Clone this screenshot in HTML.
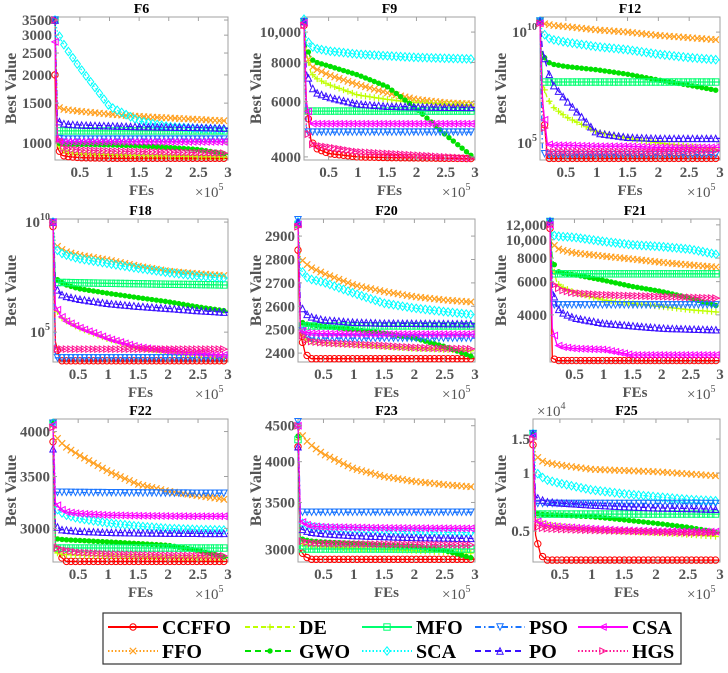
<!DOCTYPE html>
<html><head><meta charset="utf-8">
<style>
html,body{margin:0;padding:0;background:#fff;}
svg{display:block;font-family:"Liberation Serif",serif;}
</style></head>
<body>
<svg id="chart" width="728" height="673" viewBox="0 0 728 673" xmlns="http://www.w3.org/2000/svg"></svg>
<script>
// ---------- data ----------
const algorithms = ["CCFFO","FFO","DE","GWO","MFO","SCA","PSO","PO","CSA","HGS"];
const fesSamples = [0.08,0.12,0.2,0.3,0.5,1,1.5,2,2.5,3]; // x 10^5
const panelTitles = ["F6","F9","F12","F18","F20","F21","F22","F23","F25"];

const f6Values = [
 [2000,950,880,870,860,855,855,855,855,855],
 [3500,1450,1410,1400,1380,1340,1310,1290,1270,1250],
 [3500,1000,930,910,900,890,880,875,870,865],
 [3500,1000,990,988,985,980,970,955,935,890],
 [3500,1130,1130,1130,1130,1130,1130,1130,1130,1130],
 [3500,3100,2800,2550,2150,1450,1250,1180,1160,1150],
 [3500,1050,1040,1040,1040,1040,1040,1040,1040,1040],
 [3500,1260,1220,1210,1200,1190,1180,1175,1170,1160],
 [2800,1020,1010,1010,1010,1010,1010,1010,1010,1010],
 [3500,1100,950,940,930,920,915,910,905,900]];
const f9Values = [
 [10500,6000,4500,4250,4100,4000,3980,3970,3960,3950],
 [10800,8500,7800,7600,7300,6800,6400,6100,5950,5900],
 [10800,8500,7400,7100,6800,6300,6100,5950,5900,5850],
 [10800,9000,8200,8000,7800,7300,6700,5700,4700,3950],
 [10800,5600,5600,5600,5600,5600,5600,5600,5600,5600],
 [11000,9500,9000,8850,8700,8500,8400,8300,8250,8200],
 [10800,4800,4800,4800,4800,4800,4800,4800,4800,4800],
 [10800,7500,6700,6400,6200,5900,5800,5780,5760,5750],
 [10700,6000,5100,5100,5100,5100,5100,5100,5100,5100],
 [10500,5000,4400,4350,4300,4150,4100,4050,4000,3950]];
const f12Values = [
 [3.16e10,1e7,2e4,2e4,2e4,2e4,2e4,2e4,2e4,2e4],
 [3.16e10,2.5e10,2.24e10,2e10,1.78e10,1.26e10,1e10,7.1e9,5.6e9,4.4e9],
 [3.16e10,5e7,1e7,4e6,1.5e6,3.2e5,1.6e5,1e5,7.1e4,5e4],
 [3.16e10,1e9,4.5e8,3.5e8,2.8e8,2e8,1.26e8,6.9e7,4e7,2.2e7],
 [3.16e10,5.6e7,5.6e7,5.6e7,5.6e7,5.6e7,5.6e7,5.6e7,5.6e7,5.6e7],
 [3.16e10,1e10,5.4e9,4.5e9,3.5e9,2.2e9,1.6e9,1e9,7.1e8,5.5e8],
 [3.16e10,3.5e4,3e4,3e4,3e4,3e4,3e4,3e4,3e4,3e4],
 [3.16e10,1.6e9,2e8,4e7,8.7e6,2.8e5,1.8e5,1.6e5,1.6e5,1.6e5],
 [2.5e10,7.9e6,8.9e4,7.9e4,7.9e4,7.1e4,7.1e4,6.3e4,6.3e4,6.3e4],
 [2.5e10,3.2e6,4e4,4e4,4e4,4e4,4e4,4e4,4.2e4,4.5e4]];
const f18Values = [
 [6.3e9,3.6e4,5e3,5e3,5e3,5e3,5e3,5e3,5e3,5e3],
 [1e10,9.5e8,6.3e8,4.5e8,3.2e8,1.9e8,1e8,5.9e7,4.5e7,3.6e7],
 [1e10,1.3e6,5e5,3.2e5,1.6e5,4.8e4,2e4,1.26e4,9.5e3,7.6e3],
 [1e10,2.8e7,2e7,1.4e7,9.5e6,5.8e6,3.7e6,2.4e6,1.4e6,8.9e5],
 [1e10,1.8e7,1.8e7,1.8e7,1.74e7,1.66e7,1.58e7,1.5e7,1.45e7,1.38e7],
 [1e10,6.3e8,4e8,3.2e8,2.2e8,1.3e8,7.9e7,5.1e7,3.5e7,2.8e7],
 [1e10,6.8e3,6.8e3,6.8e3,6.8e3,6.8e3,6.8e3,6.8e3,6.8e3,6.8e3],
 [1e10,1.15e7,5.4e6,4.2e6,3.2e6,2e6,1.5e6,1.2e6,9.5e5,7.9e5],
 [1e10,1.6e6,5.9e5,3.2e5,1.7e5,5.1e4,2.1e4,1.4e4,1.1e4,8.9e3],
 [1e10,1.7e4,1.7e4,1.7e4,1.7e4,1.7e4,1.7e4,1.7e4,1.7e4,1.7e4]];
const f20Values = [
 [2840,2485,2396,2376,2376,2376,2376,2376,2376,2376],
 [2950,2805,2784,2765,2741,2691,2663,2641,2627,2617],
 [2950,2500,2460,2450,2445,2437,2428,2420,2415,2410],
 [2950,2535,2525,2520,2514,2500,2485,2464,2428,2381],
 [2950,2516,2516,2516,2516,2516,2516,2516,2516,2516],
 [2960,2762,2727,2715,2703,2656,2613,2592,2577,2563],
 [2970,2506,2480,2464,2464,2464,2464,2464,2464,2464],
 [2960,2606,2570,2555,2542,2532,2528,2527,2526,2525],
 [2950,2500,2488,2485,2483,2482,2481,2481,2481,2481],
 [2940,2485,2460,2450,2444,2438,2432,2424,2420,2418]];
const f21Values = [
 [11500,2360,2290,2290,2290,2290,2290,2290,2290,2290],
 [12500,9620,9000,8800,8520,8190,7900,7590,7350,7140],
 [12500,7500,5900,5600,5260,4790,4600,4420,4250,4130],
 [12500,7850,6820,6650,6530,6100,5650,5320,4900,4420],
 [12500,6600,6600,6600,6600,6600,6600,6600,6600,6600],
 [12500,10600,10450,10400,10300,9800,9400,9200,8900,8300],
 [12500,4520,4520,4520,4520,4520,4520,4520,4520,4520],
 [12500,5550,4350,4100,3850,3610,3500,3400,3360,3330],
 [12000,3400,2770,2700,2650,2620,2450,2450,2450,2450],
 [12000,5900,5600,5400,5220,5110,5050,5000,4950,4900]];
const f22Values = [
 [3880,2868,2760,2720,2720,2720,2720,2720,2720,2720],
 [4080,3950,3880,3820,3735,3554,3420,3350,3306,3265],
 [4100,2795,2780,2775,2770,2765,2760,2755,2752,2750],
 [4120,2910,2905,2900,2895,2882,2868,2853,2810,2750],
 [4100,2830,2830,2830,2830,2830,2830,2830,2830,2830],
 [4100,3190,3150,3120,3090,3048,3020,3000,2990,2985],
 [4100,3340,3340,3340,3338,3336,3334,3332,3331,3330],
 [3800,3030,2990,2985,2975,2965,2960,2958,2956,2955],
 [4080,3240,3180,3150,3135,3120,3115,3112,3110,3110],
 [4050,2838,2820,2810,2795,2780,2775,2770,2767,2765]];
const f23Values = [
 [4200,2990,2930,2905,2905,2905,2905,2905,2905,2905],
 [4500,4400,4300,4220,4100,3910,3810,3750,3710,3680],
 [4300,3060,3050,3040,3030,3010,3000,2990,2975,2965],
 [4350,3110,3095,3085,3075,3060,3045,3030,2990,2910],
 [4300,3005,3005,3005,3005,3005,3005,3005,3005,3005],
 [4500,3285,3250,3230,3215,3200,3190,3180,3175,3170],
 [4560,3390,3390,3390,3390,3390,3390,3390,3390,3390],
 [4200,3215,3190,3175,3160,3140,3130,3120,3115,3110],
 [4500,3300,3260,3240,3230,3225,3220,3218,3216,3215],
 [4500,3090,3075,3065,3060,3055,3052,3050,3047,3045]];
const f25Values = [ // x 10^4
 [1.4,0.477,0.376,0.354,0.354,0.354,0.354,0.354,0.354,0.354],
 [1.6,1.24,1.16,1.13,1.10,1.045,1.03,1.016,0.99,0.965],
 [1.55,0.571,0.55,0.54,0.53,0.51,0.5,0.49,0.48,0.468],
 [1.6,0.618,0.612,0.608,0.605,0.594,0.572,0.549,0.524,0.49],
 [1.6,0.613,0.613,0.613,0.613,0.613,0.613,0.613,0.613,0.613],
 [1.6,1.016,0.96,0.92,0.884,0.817,0.78,0.754,0.73,0.716],
 [1.6,0.696,0.696,0.696,0.696,0.696,0.696,0.696,0.696,0.696],
 [1.6,0.754,0.73,0.71,0.70,0.683,0.67,0.66,0.655,0.648],
 [1.55,0.571,0.55,0.535,0.527,0.515,0.505,0.50,0.498,0.497],
 [1.5,0.527,0.52,0.515,0.511,0.505,0.5,0.495,0.49,0.49]];

const f6Ticks = [1000,1500,2000,2500,3000,3500];
const f9Ticks = [4000,6000,8000,10000];
const f9TickLabels = ["4000","6000","8000","10,000"];
const f12Ticks = [1e5,1e10];
const f18Ticks = [1e5,1e10];
const f20Ticks = [2400,2500,2600,2700,2800,2900];
const f21Ticks = [4000,6000,8000,10000,12000];
const f21TickLabels = ["4000","6000","8000","10,000","12,000"];
const f22Ticks = [3000,3500,4000];
const f23Ticks = [3000,3500,4000,4500];
const f25Ticks = [0.5,1,1.5];
const xTicks = [0.5,1,1.5,2,2.5,3];
const xTickLabels = ["0.5","1","1.5","2","2.5","3"];

// ---------- styles / layout ----------
const colors = ["#ff0000","#ffa020","#bfff00","#00e000","#00ff70","#00ffff","#1a75ff","#3a10ff","#ff00ff","#ff1493"];
const dashes = ["","1.5,2","5,3","6,4","","1.5,2","6,3,1.5,3","6,4","","1.5,2"];
const markers = ["o","x","+","*","s","d","v","^","<",">"];

const panels = [
 {vals:f6Values, ticks:f6Ticks, labels:null, log:true, dom:[840,3610], L:55, R:228, T:17, B:160},
 {vals:f9Values, ticks:f9Ticks, labels:f9TickLabels, log:true, dom:[3910,11170], L:304, R:475, T:17, B:160},
 {vals:f12Values, ticks:f12Ticks, labels:"pow", log:true, dom:[1.7e4,4.8e10], L:540, R:720, T:17, B:160},
 {vals:f18Values, ticks:f18Ticks, labels:"pow", log:true, dom:[4.4e3,1.38e10], L:53, R:228, T:219, B:362},
 {vals:f20Values, ticks:f20Ticks, labels:null, log:false, dom:[2362,2973], L:298, R:475, T:219, B:362},
 {vals:f21Values, ticks:f21Ticks, labels:f21TickLabels, log:true, dom:[2250,12890], L:550, R:720, T:219, B:362},
 {vals:f22Values, ticks:f22Ticks, labels:null, log:true, dom:[2715,4152], L:53, R:228, T:419, B:562},
 {vals:f23Values, ticks:f23Ticks, labels:null, log:true, dom:[2880,4600], L:298, R:475, T:419, B:562},
 {vals:f25Values, ticks:f25Ticks, labels:null, log:true, dom:[0.346,1.905], L:533, R:720, T:419, B:562, exp4:true}
];
const xDom = [0.08,3];
const NS = "http://www.w3.org/2000/svg";
const svg = document.getElementById("chart");
function mk(tag, attrs, parent){const e=document.createElementNS(NS,tag);for(const k in attrs)e.setAttribute(k,attrs[k]);(parent||svg).appendChild(e);return e;}

function interp(xs, ys, x, log){
  for(let i=0;i<xs.length-1;i++){
    if(x<=xs[i+1]){const t=(x-xs[i])/(xs[i+1]-xs[i]);
      if(log) return Math.pow(10, Math.log10(ys[i])+(Math.log10(ys[i+1])-Math.log10(ys[i]))*t);
      return ys[i]+(ys[i+1]-ys[i])*t;}
  }
  return ys[ys.length-1];
}

function drawMarker(g, type, x, y, c){
  const s=3.2; let e;
  if(type==="o"){e=mk("circle",{cx:x,cy:y,r:s,fill:"none",stroke:c,"stroke-width":1},g);}
  else if(type==="s"){e=mk("rect",{x:x-s,y:y-s,width:2*s,height:2*s,fill:"none",stroke:c,"stroke-width":1},g);}
  else if(type==="x"){e=mk("path",{d:`M${x-s},${y-s}L${x+s},${y+s}M${x-s},${y+s}L${x+s},${y-s}`,stroke:c,"stroke-width":1.2},g);}
  else if(type==="+"){e=mk("path",{d:`M${x-s},${y}L${x+s},${y}M${x},${y-s}L${x},${y+s}`,stroke:c,"stroke-width":1.2},g);}
  else if(type==="*"){e=mk("circle",{cx:x,cy:y,r:2.4,fill:c,stroke:c,"stroke-width":0.6},g);}
  else if(type==="d"){e=mk("path",{d:`M${x},${y-s-1}L${x+s},${y}L${x},${y+s+1}L${x-s},${y}Z`,fill:"none",stroke:c,"stroke-width":1},g);}
  else if(type==="v"){e=mk("path",{d:`M${x-s},${y-s}L${x+s},${y-s}L${x},${y+s}Z`,fill:"none",stroke:c,"stroke-width":1},g);}
  else if(type==="^"){e=mk("path",{d:`M${x-s},${y+s}L${x+s},${y+s}L${x},${y-s}Z`,fill:"none",stroke:c,"stroke-width":1},g);}
  else if(type==="<"){e=mk("path",{d:`M${x+s},${y-s}L${x+s},${y+s}L${x-s},${y}Z`,fill:"none",stroke:c,"stroke-width":1},g);}
  else {e=mk("path",{d:`M${x-s},${y-s}L${x-s},${y+s}L${x+s},${y}Z`,fill:"none",stroke:c,"stroke-width":1},g);}
  return e;
}

panels.forEach((p,pi)=>{
  const g=mk("g",{});
  
  
  const xs=v=>p.L+(v-xDom[0])/(xDom[1]-xDom[0])*(p.R-p.L);
  const ys=v=>{ if(p.log){const a=Math.log10(p.dom[0]),b=Math.log10(p.dom[1]);return p.B-(Math.log10(v)-a)/(b-a)*(p.B-p.T);}
    return p.B-(v-p.dom[0])/(p.dom[1]-p.dom[0])*(p.B-p.T);};
  const box=mk("rect",{x:p.L,y:p.T,width:p.R-p.L,height:p.B-p.T,fill:"#fff",stroke:"#a0a0a0","stroke-width":1},g);
  
  
  p.vals.forEach((vals,si)=>{
    const sg=mk("g",{},g);
    
    
    let d="";
    for(let x=xDom[0];x<=3.0001;x+=0.01){const v=interp(fesSamples,vals,x,p.log);d+=(d?"L":"M")+xs(x).toFixed(1)+","+ys(v).toFixed(1);}
    mk("path",{d:d,fill:"none",stroke:colors[si],"stroke-width":1.3,"stroke-dasharray":dashes[si]},sg);
    for(let x=xDom[0];x<=3.0001;x+=0.075){const v=interp(fesSamples,vals,x,p.log);drawMarker(sg,markers[si],xs(x),ys(v),colors[si]);}
  });
  p.ticks.forEach((t,ti)=>{
    const y=ys(t);
    mk("line",{x1:p.L,x2:p.L+4,y1:y,y2:y,stroke:"#a0a0a0"},g);
    mk("line",{x1:p.R,x2:p.R-4,y1:y,y2:y,stroke:"#a0a0a0"},g);
    const tx=mk("text",{x:p.L-3,y:y+5,"text-anchor":"end","font-size":15,"font-weight":"bold",fill:"#555"},g);
    
    
    if(p.labels==="pow"){tx.textContent="10";const ts=mk("tspan",{dy:-7,"font-size":10},tx);ts.textContent=String(Math.round(Math.log10(t)));}
    else if(p.labels){tx.textContent=p.labels[ti];}
    else tx.textContent=String(t);
  });
  xTicks.forEach((t,ti)=>{
    const x=xs(t);
    mk("line",{x1:x,x2:x,y1:p.B,y2:p.B-4,stroke:"#a0a0a0"},g);
    mk("line",{x1:x,x2:x,y1:p.T,y2:p.T+4,stroke:"#a0a0a0"},g);
    const tx=mk("text",{x:x,y:p.B+17,"text-anchor":"middle","font-size":15,"font-weight":"bold",fill:"#555"},g);
    
    
    tx.textContent=xTickLabels[ti];
  });
  const title=mk("text",{x:(p.L+p.R)/2,y:p.T-4,"text-anchor":"middle","font-size":14,"font-weight":"bold",fill:"#000"},g);
  
  
  title.textContent=panelTitles[pi];
  const xl=mk("text",{x:(p.L+p.R)/2,y:p.B+35,"text-anchor":"middle","font-size":15,"font-weight":"bold",fill:"#555"},g);
  
  
  xl.textContent="FEs";
  const xm=mk("text",{x:p.R-33,y:p.B+37,"font-size":15,fill:"#555"},g);
  
  
  xm.textContent="×10";
  const xe=mk("tspan",{dy:-7,"font-size":10},xm); xe.textContent="5";
  const colX=[16,261,506][pi%3];
  const yl=mk("text",{x:colX,y:(p.T+p.B)/2,"text-anchor":"middle","font-size":16,"font-weight":"bold",fill:"#555",transform:`rotate(-90 ${colX} ${(p.T+p.B)/2})`},g);
  
  
  yl.textContent="Best Value";
  if(p.exp4){
    const e4=mk("text",{x:p.L+4,y:p.T-3,"font-size":15,fill:"#555"},g);
    
    
    e4.textContent="×10";
    const t4=mk("tspan",{dy:-7,"font-size":10},e4); t4.textContent="4";
  }
});

// ---------- legend ----------
const lg=mk("g",{});


mk("rect",{x:103,y:613,width:578,height:51,fill:"#fff",stroke:"#333","stroke-width":1.2},lg);
const legCols=[108,245,362,475,578];
const legRows=[627,651];
algorithms.forEach((a,i)=>{
  const col=Math.floor(i/2), row=i%2;
  const x0=legCols[col], y=legRows[row];
  const eg=mk("g",{},lg);
  
  
  mk("line",{x1:x0,x2:x0+50,y1:y,y2:y,stroke:colors[i],"stroke-width":2,"stroke-dasharray":dashes[i]},eg);
  drawMarker(eg,markers[i],x0+25,y,colors[i]);
  const t=mk("text",{x:x0+54,y:y+7,"font-size":20,"font-weight":"bold",fill:"#000"},eg);
  t.textContent=a;
});
</script>
</body></html>
